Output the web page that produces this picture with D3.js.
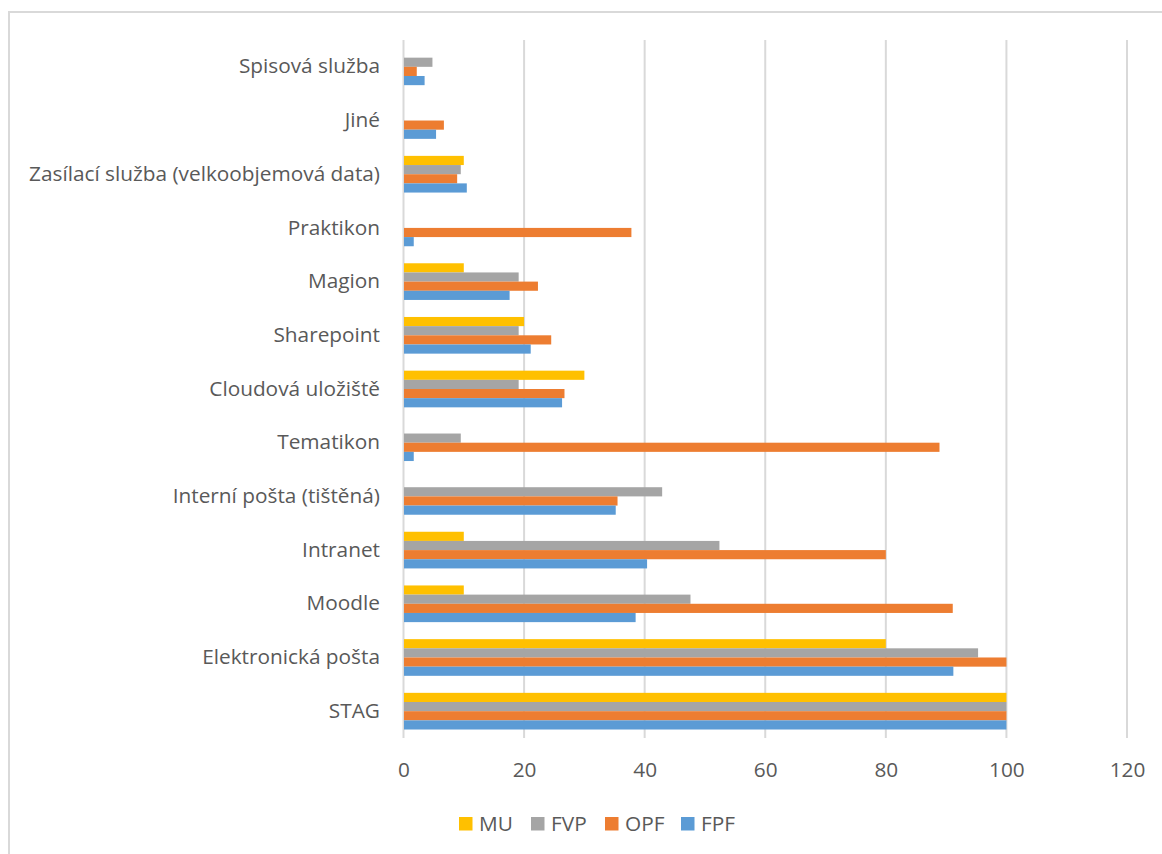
<!DOCTYPE html>
<html>
<head>
<meta charset="utf-8">
<script src="https://cdn.jsdelivr.net/npm/d3@7"></script>
<style>
html,body{margin:0;padding:0;background:#fff;}
svg{display:block;}
text{font-family:"Open Sans",sans-serif;fill:#595959;}
</style>
</head>
<body>
<svg id="chart" width="1162" height="854"></svg>
<script>
const categories = ["STAG","Elektronická pošta","Moodle","Intranet","Interní pošta (tištěná)","Tematikon","Cloudová uložiště","Sharepoint","Magion","Praktikon","Zasílací služba (velkoobjemová data)","Jiné","Spisová služba"];
const seriesNames = ["MU","FVP","OPF","FPF"];
const colors = ["#FFC000","#A5A5A5","#ED7D31","#5B9BD5"];
const MU  = [100, 80, 10, 10, 0, 0, 30, 20, 10, 0, 10, 0, 0];
const FVP = [100, 95.3, 47.6, 52.4, 42.9, 9.5, 19.1, 19.1, 19.1, 0, 9.5, 0, 4.8];
const OPF = [100, 100, 91.1, 80, 35.5, 88.9, 26.7, 24.5, 22.3, 37.8, 8.9, 6.7, 2.2];
const FPF = [100, 91.2, 38.5, 40.4, 35.2, 1.7, 26.3, 21.1, 17.6, 1.7, 10.5, 5.4, 3.5];
const xTicks = [0,20,40,60,80,100,120];

const seriesValues = [MU, FVP, OPF, FPF];
const svg = d3.select("#chart");
const FONT = "'Open Sans',sans-serif";
const FS = "20.8px";

// outer frame
svg.append("path").attr("d","M9,854 V12 H1162").attr("fill","none").attr("stroke","#d9d9d9").attr("stroke-width",2);

const x = d3.scaleLinear().domain([0,120]).range([403.5,1127]);
const y = d3.scaleBand().domain(categories.slice().reverse()).range([40,738]).paddingInner(0.317).paddingOuter(0.158);
const ys = d3.scaleBand().domain(seriesNames).range([0,y.bandwidth()]);

// gridlines
svg.append("g").selectAll("line").data(xTicks).join("line")
  .attr("x1",d=>x(d)).attr("x2",d=>x(d)).attr("y1",40).attr("y2",738)
  .attr("stroke","#d9d9d9").attr("stroke-width",2);

// bars
const data = [];
categories.forEach((c,i)=>seriesNames.forEach((s,j)=>data.push({c,s,v:seriesValues[j][i],col:colors[j]})));
svg.append("g").selectAll("rect").data(data.filter(d=>d.v>0)).join("rect")
  .attr("x",x(0)+0.5).attr("y",d=>y(d.c)+ys(d.s))
  .attr("width",d=>x(d.v)-x(0)-0.5).attr("height",ys.bandwidth())
  .attr("fill",d=>d.col);

// category labels
const yAxis = d3.axisLeft(y).tickSize(0).tickPadding(0);
const ga = svg.append("g").attr("transform","translate(380,0)").call(yAxis);
ga.select(".domain").remove();
ga.selectAll("text").style("font-size",FS).attr("fill","#595959").attr("font-family",FONT);

// x tick labels
const xAxis = d3.axisBottom(x).tickValues(xTicks).tickSize(0).tickPadding(0);
const gx = svg.append("g").attr("transform","translate(0,762)").call(xAxis);
gx.select(".domain").remove();
gx.selectAll("text").style("font-size",FS).attr("fill","#595959").attr("font-family",FONT);

// legend
const legX = [459,531,605,681];
const lg = svg.append("g").selectAll("g").data(seriesNames).join("g")
  .attr("transform",(d,i)=>`translate(${legX[i]},817)`);
lg.append("rect").attr("width",13.5).attr("height",13.5).attr("fill",(d,i)=>colors[i]);
lg.append("text").attr("x",20).attr("y",7).attr("dy","0.35em").style("font-size",FS).text(d=>d);
</script>
</body>
</html>
